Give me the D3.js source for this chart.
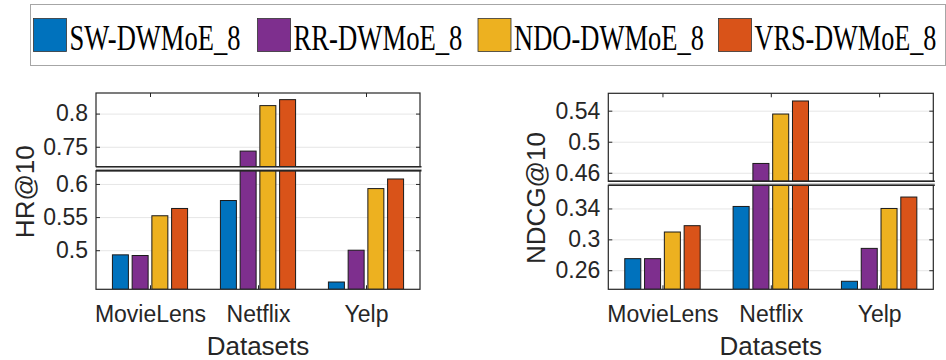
<!DOCTYPE html>
<html>
<head>
<meta charset="utf-8">
<script src="https://cdn.jsdelivr.net/npm/d3@7"></script>
<style>
  body { margin: 0; background: #fff; }
  svg { display: block; }
</style>
</head>
<body>
<div id="chart"></div>
<script>
// data
var categories = ["MovieLens", "Netflix", "Yelp"];
var series = ["SW-DWMoE_8", "RR-DWMoE_8", "NDO-DWMoE_8", "VRS-DWMoE_8"];
var colors = ["#0072BD", "#7E2F8E", "#EDB120", "#D95319"];

var hrSW  = [0.493, 0.575, 0.452];
var hrRR  = [0.492, 0.7435, 0.500];
var hrNDO = [0.552, 0.812, 0.593];
var hrVRS = [0.563, 0.821, 0.6075];

var ndcgSW  = [0.275, 0.3426, 0.2457];
var ndcgRR  = [0.275, 0.472, 0.2883];
var ndcgNDO = [0.3095, 0.5357, 0.340];
var ndcgVRS = [0.3177, 0.5525, 0.3548];

var hrTicksUpper = [0.75, 0.8];
var hrTicksLower = [0.5, 0.55, 0.6];
var ndcgTicksUpper = [0.46, 0.5, 0.54];
var ndcgTicksLower = [0.26, 0.3, 0.34];

var hrUpperDomain = [0.72, 0.831];
var hrLowerDomain = [0.441, 0.62];
var ndcgUpperDomain = [0.449, 0.5624];
var ndcgLowerDomain = [0.2353, 0.370];

const W = 946, H = 360;
const axisColor = "#262626";
const tickFont = "Liberation Sans, Arial, sans-serif";

var svg = d3.select("#chart").append("svg")
  .attr("width", W)
  .attr("height", H);

// ---- legend ----
var legend = svg.append("g");
legend.append("rect")
  .attr("x", 30.5).attr("y", 4.5)
  .attr("width", 915).attr("height", 61)
  .style("fill", "#fff")
  .style("stroke", "#a6a6a6")
  .style("stroke-width", 1);

var legendX = [33.5, 257.5, 478, 718.5];   // swatch left edges
var legendTextW = [171, 169, 190, 182];   // the serif labels are squeezed horizontally
series.forEach(function(s, i) {
  legend.append("rect")
    .attr("x", legendX[i]).attr("y", 18.5)
    .attr("width", 33).attr("height", 33)
    .style("fill", colors[i])
    .style("stroke", "#333")
    .style("stroke-width", 0.8);
  var tg = legend.append("g");
  var t = tg.append("text")
    .attr("x", 0).attr("y", 0)
    .style("font-family", "Liberation Serif, Times New Roman, serif")
    .style("font-size", "35px")
    .style("fill", "#000")
    .text(s);
  var natural = t.node().getComputedTextLength();
  var sx = legendTextW[i] / natural;
  tg.attr("transform", "translate(" + (legendX[i] + 36) + ",50) scale(" + sx + ",1)");
});

// ---- one broken-axis bar panel ----
function drawPanel(opt) {
  var g = svg.append("g");
  var x = d3.scaleLinear().domain([0.5, 3.5]).range([opt.x0, opt.x1]);
  var yU = d3.scaleLinear().domain(opt.upperDomain).range([opt.upperBottom, opt.top]);
  var yL = d3.scaleLinear().domain(opt.lowerDomain).range([opt.bottom, opt.lowerTop]);
  var half = 0.348;
  var sub = d3.scaleBand().domain(series).range([-half, half]).paddingInner(0.19);

  var rows = [];
  categories.forEach(function(c, ci) {
    series.forEach(function(s, si) {
      rows.push({cat: ci + 1, s: s, si: si, v: opt.values[si][ci]});
    });
  });

  [{y: yU, ticks: opt.ticksUpper, id: opt.id + "u"},
   {y: yL, ticks: opt.ticksLower, id: opt.id + "l"}].forEach(function(part) {
    var y = part.y;
    var r = y.range();
    svg.append("clipPath").attr("id", part.id)
      .append("rect")
      .attr("x", opt.x0).attr("y", r[1])
      .attr("width", opt.x1 - opt.x0).attr("height", r[0] - r[1]);

    // grid
    g.append("g")
      .attr("transform", "translate(" + opt.x0 + ",0)")
      .call(d3.axisLeft(y).tickValues(part.ticks).tickSize(-(opt.x1 - opt.x0)).tickFormat(""))
      .call(function(a) {
        a.select(".domain").remove();
        a.selectAll("line").style("stroke", "#e6e6e6").style("stroke-width", 1);
      });

    // bars
    var base = y.domain()[0];
    g.append("g").attr("clip-path", "url(#" + part.id + ")")
      .selectAll("rect").data(rows).enter().append("rect")
      .attr("x", function(d) { return x(d.cat + sub(d.s)); })
      .attr("width", function(d) { return x(d.cat + sub.bandwidth()) - x(d.cat); })
      .attr("y", function(d) { return y(d.v); })
      .attr("height", function(d) { return Math.max(0, y(base) - y(d.v)); })
      .style("fill", function(d) { return colors[d.si]; })
      .style("stroke", "#1a1a1a")
      .style("stroke-width", 1);

    // y ticks, left with labels
    g.append("g")
      .attr("transform", "translate(" + opt.x0 + ",0)")
      .call(d3.axisLeft(y).tickValues(part.ticks).tickSize(-4).tickPadding(8)
        .tickFormat(function(d) { return String(d); }))
      .call(function(a) {
        a.select(".domain").remove();
        a.selectAll("line").style("stroke", axisColor);
        a.selectAll("text")
          .style("font-family", tickFont)
          .style("font-size", "23px")
          .style("fill", axisColor);
      });

    // y ticks, right side
    g.append("g")
      .attr("transform", "translate(" + opt.x1 + ",0)")
      .call(d3.axisRight(y).tickValues(part.ticks).tickSize(-4).tickFormat(""))
      .call(function(a) {
        a.select(".domain").remove();
        a.selectAll("line").style("stroke", axisColor);
      });
  });

  // x ticks top (inward)
  g.append("g")
    .attr("transform", "translate(0," + opt.top + ")")
    .call(d3.axisTop(x).tickValues([1, 2, 3]).tickSize(-4).tickFormat(""))
    .call(function(a) {
      a.select(".domain").remove();
      a.selectAll("line").style("stroke", axisColor);
    });

  // x axis bottom with labels
  g.append("g")
    .attr("transform", "translate(0," + opt.bottom + ")")
    .call(d3.axisBottom(x).tickValues([1, 2, 3]).tickSize(-4).tickPadding(16)
      .tickFormat(function(d) { return categories[d - 1]; }))
    .call(function(a) {
      a.select(".domain").remove();
      a.selectAll("line").style("stroke", axisColor);
      a.selectAll("text")
        .style("font-family", tickFont)
        .style("font-size", "23px")
        .style("fill", axisColor);
    });

  // axes boxes
  var boxStyle = function(sel) {
    sel.style("fill", "none").style("stroke", axisColor).style("stroke-width", 1.2);
  };
  g.append("rect")
    .attr("x", opt.x0).attr("y", opt.top)
    .attr("width", opt.x1 - opt.x0).attr("height", opt.upperBottom - opt.top)
    .call(boxStyle);
  g.append("rect")
    .attr("x", opt.x0).attr("y", opt.lowerTop)
    .attr("width", opt.x1 - opt.x0).attr("height", opt.bottom - opt.lowerTop)
    .call(boxStyle);

  // the break band
  g.append("rect")
    .attr("x", opt.x0 - 0.5).attr("y", opt.upperBottom + 0.8)
    .attr("width", opt.x1 - opt.x0 + 2).attr("height", opt.lowerTop - opt.upperBottom - 1.6)
    .style("fill", "#fff");
  g.append("line")
    .attr("x1", opt.x0).attr("x2", opt.x1 + 1.5)
    .attr("y1", opt.upperBottom).attr("y2", opt.upperBottom)
    .style("stroke", axisColor).style("stroke-width", 1.4);
  g.append("line")
    .attr("x1", opt.x0).attr("x2", opt.x1 + 1.5)
    .attr("y1", opt.lowerTop - 1.3).attr("y2", opt.lowerTop - 1.3)
    .style("stroke", "#9a9a9a").style("stroke-width", 1);
  g.append("line")
    .attr("x1", opt.x0).attr("x2", opt.x1 + 1.5)
    .attr("y1", opt.lowerTop).attr("y2", opt.lowerTop)
    .style("stroke", axisColor).style("stroke-width", 1.4);

  // axis titles
  g.append("text")
    .attr("x", (opt.x0 + opt.x1) / 2).attr("y", 355)
    .attr("text-anchor", "middle")
    .style("font-family", tickFont)
    .style("font-size", "26px")
    .style("fill", axisColor)
    .text("Datasets");
  g.append("text")
    .attr("transform", "translate(" + opt.ylabelX + "," + opt.ylabelY + ") rotate(-90)")
    .attr("text-anchor", "middle")
    .style("font-family", tickFont)
    .style("font-size", "26px")
    .style("fill", axisColor)
    .text(opt.ylabel);
}

drawPanel({
  id: "hr", x0: 96, x1: 420, top: 93, bottom: 289.3,
  upperBottom: 166.7, lowerTop: 170.7,
  upperDomain: hrUpperDomain, lowerDomain: hrLowerDomain,
  ticksUpper: hrTicksUpper, ticksLower: hrTicksLower,
  values: [hrSW, hrRR, hrNDO, hrVRS],
  ylabel: "HR@10", ylabelX: 33.5, ylabelY: 191.7
});

drawPanel({
  id: "ndcg", x0: 608.3, x1: 933.3, top: 93.3, bottom: 289.3,
  upperBottom: 181.3, lowerTop: 185.3,
  upperDomain: ndcgUpperDomain, lowerDomain: ndcgLowerDomain,
  ticksUpper: ndcgTicksUpper, ticksLower: ndcgTicksLower,
  values: [ndcgSW, ndcgRR, ndcgNDO, ndcgVRS],
  ylabel: "NDCG@10", ylabelX: 545, ylabelY: 198
});
</script>
</body>
</html>
